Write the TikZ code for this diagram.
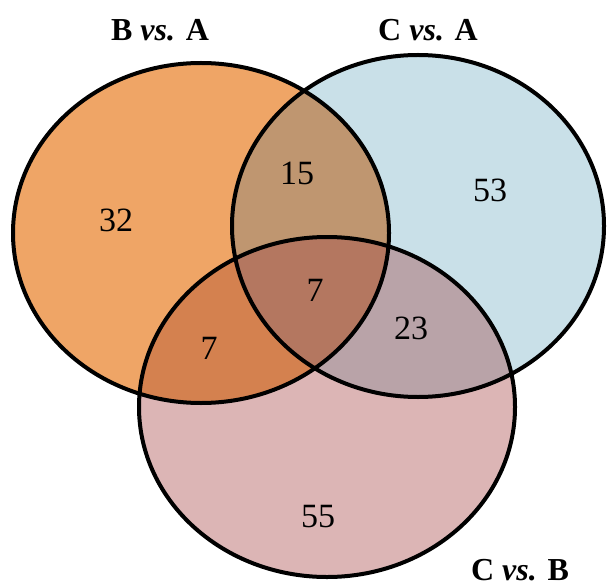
\documentclass[tikz,border=0pt]{standalone}
\usepackage{fontspec}
\setmainfont{Liberation Serif}
\definecolor{orangeBA}{HTML}{EFA566}
\definecolor{blueCA}{HTML}{C9E0E8}
\definecolor{pinkCB}{HTML}{DCB5B5}
\definecolor{tanBC}{HTML}{BF9670}
\definecolor{rustBB}{HTML}{D4814F}
\definecolor{mauveCC}{HTML}{B9A3A8}
\definecolor{brownAll}{HTML}{B47760}

\begin{document}
\begin{tikzpicture}[x=0.5pt,y=-0.5pt,
  vennline/.style={line width=2pt,black},
  setlabel/.style={font=\fontsize{16}{18}\bfseries\selectfont,inner sep=0pt},
  count/.style={font=\fontsize{17}{19}\selectfont}]
\useasboundingbox (0,0) rectangle (608,587);
\fill[white] (0,0) rectangle (608,587);
\def\circBA{(201,233) ellipse [x radius=188, y radius=170]}
\def\circCA{(418,226) ellipse [x radius=186, y radius=171]}
\def\circCB{(327,407) ellipse [x radius=188, y radius=170]}
\fill[orangeBA] \circBA;
\fill[blueCA] \circCA;
\fill[pinkCB] \circCB;
\begin{scope}
\clip \circBA;
\fill[tanBC] \circCA;
\fill[rustBB] \circCB;
\end{scope}
\begin{scope}
\clip \circCA;
\fill[mauveCC] \circCB;
\end{scope}
\begin{scope}
\clip \circBA;
\clip \circCA;
\fill[brownAll] \circCB;
\end{scope}
\draw[vennline] \circBA;
\draw[vennline] \circCA;
\draw[vennline] \circCB;
\node[setlabel] (tBA) at (160,30) {B \textit{vs.} A};
\node[setlabel] (tCA) at (428,30) {C \textit{vs.} A};
\node[setlabel] (tCB) at (520,570) {C \textit{vs.} B};
\node[count] (n32) at (116,220) {32};
\node[count] (n15) at (297,173) {15};
\node[count] (n53) at (490,190) {53};
\node[count] (n7c) at (315,290) {7};
\node[count] (n7l) at (209,348) {7};
\node[count] (n23) at (411,328) {23};
\node[count] (n55) at (318,517) {55};
\end{tikzpicture}
\end{document}
